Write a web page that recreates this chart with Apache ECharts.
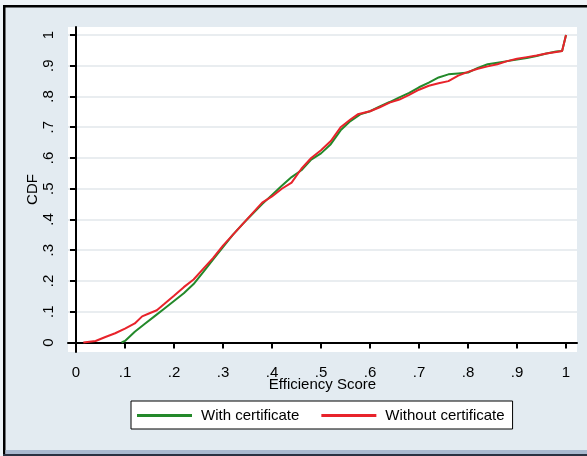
<!DOCTYPE html>
<html>
<head>
<meta charset="utf-8">
<script src="https://cdn.jsdelivr.net/npm/echarts@6/dist/echarts.min.js"></script>
<style>
  html, body { margin: 0; padding: 0; background: #e3ebf1; }
  #chart { width: 587px; height: 456px; }
</style>
</head>
<body>
<div id="chart"></div>
<script>
// Empirical CDF of efficiency scores, [score, cumulative share]
const withCertificate = [
  [0.093, 0], [0.10, 0.005], [0.12, 0.035], [0.14, 0.06], [0.16, 0.085],
  [0.18, 0.11], [0.20, 0.135], [0.22, 0.16], [0.24, 0.19], [0.26, 0.23],
  [0.28, 0.27], [0.30, 0.31], [0.32, 0.35], [0.34, 0.385], [0.36, 0.418],
  [0.38, 0.45], [0.40, 0.48], [0.42, 0.51], [0.44, 0.538], [0.46, 0.56],
  [0.48, 0.595], [0.50, 0.615], [0.52, 0.645], [0.54, 0.69], [0.56, 0.72],
  [0.58, 0.742], [0.60, 0.752], [0.62, 0.768], [0.64, 0.782], [0.66, 0.797],
  [0.68, 0.812], [0.70, 0.83], [0.72, 0.845], [0.74, 0.862], [0.76, 0.872],
  [0.78, 0.875], [0.80, 0.878], [0.82, 0.893], [0.84, 0.905], [0.86, 0.91],
  [0.88, 0.915], [0.90, 0.92], [0.92, 0.925], [0.94, 0.932], [0.96, 0.94],
  [0.98, 0.946], [0.992, 0.948], [1.0, 1.0]
];
const withoutCertificate = [
  [0.015, 0], [0.04, 0.005], [0.06, 0.018], [0.08, 0.03], [0.10, 0.045],
  [0.12, 0.062], [0.135, 0.085], [0.15, 0.095], [0.165, 0.105], [0.18, 0.125],
  [0.20, 0.152], [0.22, 0.18], [0.24, 0.205], [0.26, 0.24], [0.28, 0.275],
  [0.30, 0.315], [0.32, 0.35], [0.34, 0.385], [0.36, 0.42], [0.38, 0.455],
  [0.40, 0.475], [0.42, 0.50], [0.44, 0.52], [0.46, 0.565], [0.48, 0.60],
  [0.50, 0.625], [0.52, 0.655], [0.54, 0.70], [0.56, 0.725], [0.575, 0.742],
  [0.60, 0.752], [0.62, 0.765], [0.64, 0.78], [0.66, 0.79], [0.68, 0.805],
  [0.70, 0.822], [0.72, 0.835], [0.74, 0.843], [0.76, 0.85], [0.78, 0.868],
  [0.80, 0.88], [0.82, 0.89], [0.84, 0.898], [0.86, 0.905], [0.88, 0.915],
  [0.90, 0.923], [0.92, 0.928], [0.94, 0.933], [0.96, 0.94], [0.98, 0.945],
  [0.992, 0.948], [1.0, 1.0]
];
const tickValues = [0, 0.1, 0.2, 0.3, 0.4, 0.5, 0.6, 0.7, 0.8, 0.9, 1];
const seriesNames = ['With certificate', 'Without certificate'];

const FONT = '"Liberation Sans", Arial, sans-serif';
const FS = 15;
const fmt = v => {
  const r = Math.round(v * 10) / 10;
  if (r === 0) return '0';
  if (r === 1) return '1';
  return String(r).replace(/^0/, '');
};

const chart = echarts.init(document.getElementById('chart'), null, { renderer: 'canvas' });
chart.setOption({
  backgroundColor: '#e3ebf1',
  animation: false,
  textStyle: { fontFamily: FONT },
  graphic: [
    // page frame
    { type: 'rect', shape: { x: 0, y: 0, width: 587, height: 5 }, style: { fill: '#eef3f7' }, silent: true },
    { type: 'rect', shape: { x: 0, y: 0, width: 3, height: 456 }, style: { fill: '#eef3f7' }, silent: true },
    { type: 'rect', shape: { x: 3, y: 5, width: 584, height: 2.5 }, style: { fill: '#000' }, silent: true },
    { type: 'rect', shape: { x: 3, y: 5, width: 2.5, height: 451 }, style: { fill: '#000' }, silent: true },
    { type: 'rect', shape: { x: 5.5, y: 450, width: 582, height: 4 }, style: { fill: '#a9b9cf' }, silent: true },
    { type: 'rect', shape: { x: 3, y: 454, width: 584, height: 2 }, style: { fill: '#2a3242' }, silent: true }
  ],
  grid: {
    left: 68, right: 10, top: 27, bottom: 104,
    show: true, backgroundColor: '#ffffff', borderWidth: 0
  },
  xAxis: {
    type: 'value',
    min: -0.0163, max: 1.0224,
    name: 'Efficiency Score',
    nameLocation: 'middle',
    nameGap: 25,
    nameMoveOverlap: false,
    nameTextStyle: { color: '#000', fontSize: FS, fontFamily: FONT },
    axisLine: { show: true, lineStyle: { color: '#000', width: 2 } },
    axisTick: { show: true, inside: false, length: 6, customValues: tickValues, lineStyle: { color: '#000', width: 2 } },
    axisLabel: { customValues: tickValues, formatter: fmt, color: '#000', fontSize: FS, margin: 13, fontFamily: FONT },
    splitLine: { show: false }
  },
  yAxis: {
    type: 'value',
    min: -0.0309, max: 1.026,
    name: 'CDF',
    nameLocation: 'middle',
    nameGap: 28,
    nameRotate: 90,
    nameMoveOverlap: false,
    nameTextStyle: { color: '#000', fontSize: FS, fontFamily: FONT },
    axisLine: { show: true, lineStyle: { color: '#000', width: 2 } },
    axisTick: { show: true, inside: false, length: 6, customValues: tickValues, lineStyle: { color: '#000', width: 2 } },
    axisLabel: { customValues: tickValues, formatter: fmt, color: '#000', fontSize: FS, margin: 12, rotate: 90, fontFamily: FONT },
    splitLine: { show: true, lineStyle: { color: '#e9edf0', width: 2 } }
  },
  legend: {
    data: seriesNames.map(n => ({ name: n, icon: 'rect' })),
    left: 131, top: 401,
    orient: 'horizontal',
    backgroundColor: '#ffffff',
    borderColor: '#000',
    borderWidth: 1,
    padding: [7, 8, 6, 6],
    itemWidth: 55, itemHeight: 3, itemGap: 22,
    textStyle: { color: '#000', fontSize: FS, fontFamily: FONT, padding: [0, 0, 0, 4] }
  },
  series: [
    {
      name: seriesNames[0], type: 'line', data: withCertificate,
      symbol: 'none', showSymbol: false, z: 2,
      lineStyle: { color: '#23892a', width: 2 }, itemStyle: { color: '#23892a' }
    },
    {
      name: seriesNames[1], type: 'line', data: withoutCertificate,
      symbol: 'none', showSymbol: false, z: 3,
      lineStyle: { color: '#e8232b', width: 2 }, itemStyle: { color: '#e8232b' }
    }
  ]
});
</script>
</body>
</html>
